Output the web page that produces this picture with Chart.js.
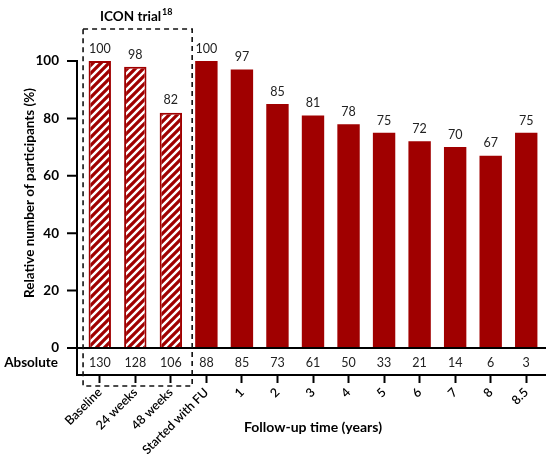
<!DOCTYPE html>
<html>
<head>
<meta charset="utf-8">
<script src="https://cdn.jsdelivr.net/npm/chart.js@4"></script>
<style>
  body { margin: 0; background: #fff; }
  #wrap { width: 546px; height: 458px; }
</style>
</head>
<body>
<div id="wrap"><canvas id="myChart" width="546" height="458"></canvas></div>
<script>
const categories = ['Baseline', '24 weeks', '48 weeks', 'Started with FU', '1', '2', '3', '4', '5', '6', '7', '8', '8.5'];
const relative = [100, 98, 82, 100, 97, 85, 81, 78, 75, 72, 70, 67, 75];
const absolute = [130, 128, 106, 88, 85, 73, 61, 50, 33, 21, 14, 6, 3];
const yTicks = [0, 20, 40, 60, 80, 100];
const iconCount = 3; // first bars belong to the ICON trial

const red = '#a00000';
const font = 'Lato, "Open Sans", sans-serif';

// striped fill for the trial bars
const makeStripes = () => {
  const c = document.createElement('canvas');
  c.width = 8; c.height = 8;
  const g = c.getContext('2d');
  g.fillStyle = red;
  g.fillRect(0, 0, 8, 8);
  g.strokeStyle = '#fff';
  g.lineWidth = 2.4;
  g.beginPath();
  g.moveTo(-2, 10); g.lineTo(10, -2);
  g.moveTo(-6, 6); g.lineTo(6, -6);
  g.moveTo(2, 14); g.lineTo(14, 2);
  g.stroke();
  return g.createPattern(c, 'repeat');
};
const stripes = makeStripes();

const axisX = 77; // the y axis line sits a little left of the first bar slot

const extras = {
  id: 'extras',
  afterDatasetsDraw(chart) {
    const ctx = chart.ctx;
    const x = chart.scales.x, y = chart.scales.y;
    const area = chart.chartArea;
    const y0 = y.getPixelForValue(0);
    ctx.save();
    ctx.strokeStyle = '#000';
    ctx.lineWidth = 2;
    ctx.beginPath();
    // y axis + ticks
    ctx.moveTo(axisX, y.getPixelForValue(100) - 1);
    ctx.lineTo(axisX, area.bottom + 1);
    yTicks.forEach(v => {
      const py = y.getPixelForValue(v);
      ctx.moveTo(axisX - 10, py);
      ctx.lineTo(axisX, py);
    });
    // zero line and bottom line
    ctx.moveTo(axisX, y0);
    ctx.lineTo(area.right + 2, y0);
    ctx.moveTo(axisX, area.bottom);
    ctx.lineTo(area.right + 2, area.bottom);
    ctx.stroke();

    // value labels + absolute row
    ctx.fillStyle = '#222';
    ctx.font = '12.5px ' + font;
    ctx.textAlign = 'center';
    const meta = chart.getDatasetMeta(0);
    meta.data.forEach((bar, i) => {
      ctx.textBaseline = 'bottom';
      ctx.fillText(String(relative[i]), bar.x, bar.y - 6);
      ctx.textBaseline = 'middle';
      ctx.fillText(String(absolute[i]), bar.x, (y0 + area.bottom) / 2 + 1);
    });
    ctx.font = 'bold 13.5px ' + font;
    ctx.fillStyle = '#000';
    ctx.textAlign = 'right';
    ctx.fillText('Absolute', 58, (y0 + area.bottom) / 2 + 1);

    // y axis title
    ctx.save();
    ctx.translate(30, 193);
    ctx.rotate(-Math.PI / 2);
    ctx.textAlign = 'center';
    ctx.textBaseline = 'middle';
    ctx.font = 'bold 13.5px ' + font;
    ctx.fillText('Relative number of participants (%)', 0, 0);
    ctx.restore();

    // dashed box round the trial bars
    const bx1 = x.getPixelForValue(-0.47);
    const bx2 = x.getPixelForValue(iconCount - 0.4);
    ctx.setLineDash([5, 4]);
    ctx.lineWidth = 1.6;
    ctx.strokeStyle = '#111';
    ctx.strokeRect(bx1, 29, bx2 - bx1, 357);
    ctx.setLineDash([]);

    // title above the box
    const cx = (bx1 + bx2) / 2 - 7;
    ctx.font = 'bold 13.5px ' + font;
    ctx.textAlign = 'center';
    ctx.textBaseline = 'alphabetic';
    ctx.fillText('ICON trial', cx, 21);
    const w = ctx.measureText('ICON trial').width;
    ctx.font = 'bold 9px ' + font;
    ctx.textAlign = 'left';
    ctx.fillText('18', cx + w / 2 + 1, 15);
    ctx.restore();
  }
};

const mychart = new Chart(document.getElementById('myChart'), {
  type: 'bar',
  data: {
    labels: categories,
    datasets: [{
      data: relative,
      backgroundColor: relative.map((v, i) => i < iconCount ? stripes : red),
      borderColor: red,
      borderWidth: relative.map((v, i) => i < iconCount ? 2 : 0),
      barPercentage: 0.9,
      categoryPercentage: 0.7
    }]
  },
  options: {
    responsive: false,
    animation: false,
    layout: { padding: { top: 61, right: 2, left: 0, bottom: 0 } },
    plugins: { legend: { display: false }, tooltip: { enabled: false } },
    scales: {
      x: {
        offset: true,
        grid: { display: true, drawOnChartArea: false, offset: false, tickLength: 8, tickWidth: 2, tickColor: '#000' },
        border: { display: false },
        ticks: { color: '#000', font: { family: font, size: 12.5, weight: '600' }, minRotation: 45, maxRotation: 45, padding: 2 },
        title: { display: true, text: 'Follow-up time (years)', color: '#000', font: { family: font, size: 14, weight: 'bold' }, padding: { top: 0, bottom: 22 } },
        afterFit: (s) => { s.height = 83; }
      },
      y: {
        min: -9.4,
        max: 100,
        afterBuildTicks: (s) => { s.ticks = yTicks.map(v => ({ value: v })); },
        grid: { display: false },
        border: { display: false },
        ticks: { color: '#000', font: { family: font, size: 13.5, weight: 'bold' }, padding: 15 },
        afterFit: (s) => { s.width = 82; }
      }
    }
  },
  plugins: [extras]
});
</script>
</body>
</html>
